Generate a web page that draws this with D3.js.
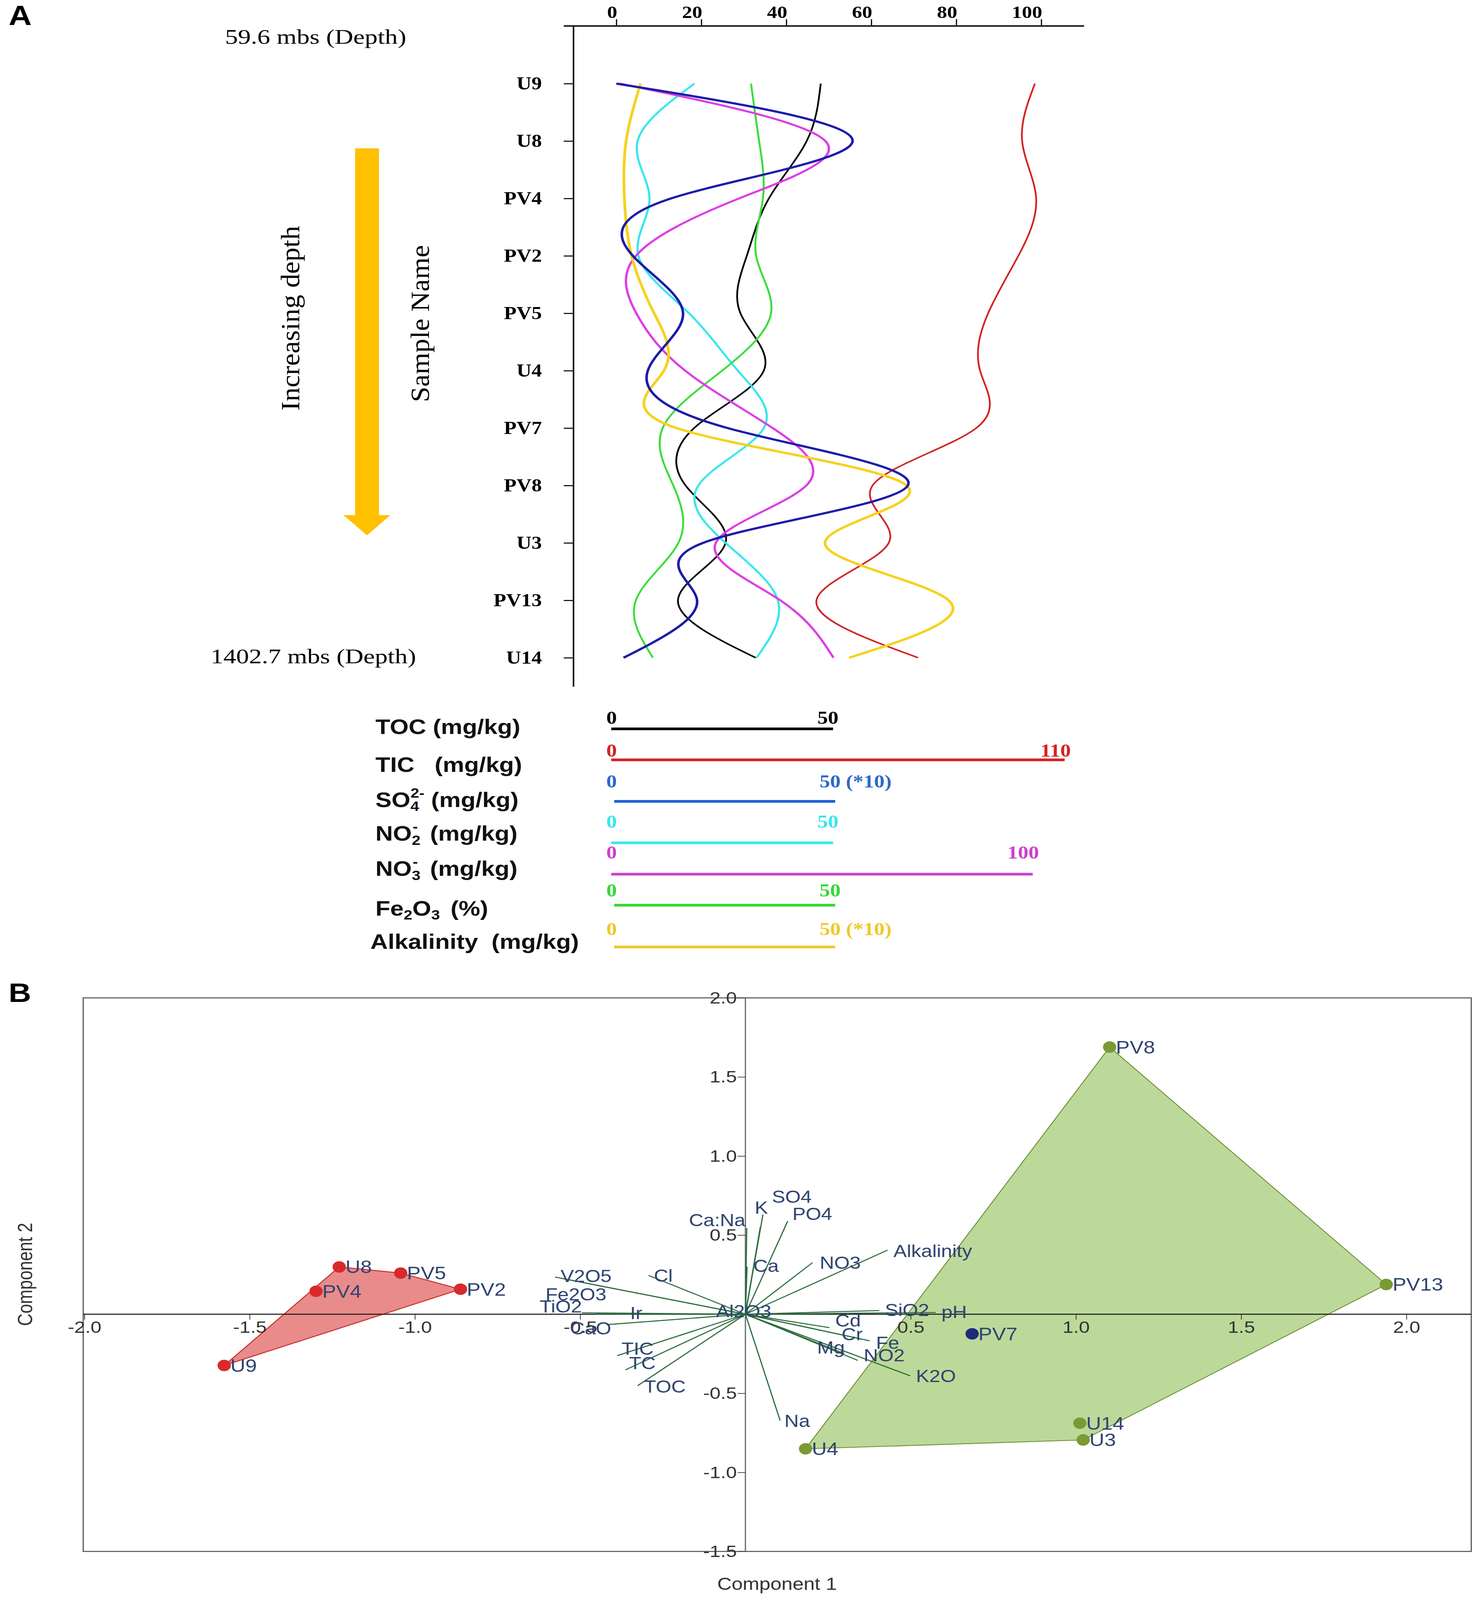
<!DOCTYPE html>
<html>
<head>
<meta charset="utf-8">
<script src="https://cdn.jsdelivr.net/npm/d3@7"></script>
<style>
  html, body { margin: 0; padding: 0; background: #fff; overflow: hidden; }
  svg { display: block; width: 100vw; height: 100vh; }
</style>
</head>
<body>
<div id="chart"></div>
<script>
// ---------------- DATA: panel A (depth profiles, values on the shared 0-100 axis) -------------
const samples = ["U9", "U8", "PV4", "PV2", "PV5", "U4", "PV7", "PV8", "U3", "PV13", "U14"];
const axisTicksA = [0, 20, 40, 60, 80, 100];
const tocVals   = [48.1, 44.8, 35.9, 30.7, 29.2, 34.7, 18.3, 16.3, 25.7, 14.5, 32.8];
const ticVals   = [98.5, 95.5, 98.8, 94.6, 87.5, 85.6, 84.7, 60.3, 64.1, 47.1, 71.0];
const so4Vals   = [0.0, 55.6, 12.9, 3.9, 15.7, 7.4, 26.2, 68.6, 20.4, 19.0, 1.7];
const no2Vals   = [18.4, 5.0, 7.8, 5.2, 17.1, 28.6, 34.7, 19.3, 25.7, 38.0, 33.0];
const no3Vals   = [0.8, 49.2, 28.9, 4.6, 4.7, 16.2, 36.8, 44.7, 23.4, 38.6, 51.1];
const fe2o3Vals = [31.7, 33.6, 34.5, 32.9, 36.4, 24.9, 10.9, 13.4, 14.6, 4.6, 8.6];
const alkVals   = [5.7, 2.3, 1.9, 3.6, 8.9, 11.2, 14.2, 68.3, 49.1, 78.2, 54.8];

// legend (scale bars)
const legendNames = ["TOC", "TIC", "SO4", "NO2", "NO3", "Fe2O3", "Alkalinity"];
const legendMinLabels = ["0", "0", "0", "0", "0", "0", "0"];
const legendMaxLabels = ["50", "110", "50 (*10)", "50", "100", "50", "50 (*10)"];
const legendSpan = [51, 105.5, 51.5, 51, 98, 51.5, 51.5];   // bar length in axis units

// ---------------- DATA: panel B (PCA biplot) ----------------
const groupANames = ["U9", "PV4", "U8", "PV5", "PV2"];
const groupAX = [-1.577, -1.299, -1.229, -1.043, -0.862];
const groupAY = [-0.324, 0.145, 0.299, 0.260, 0.158];
const groupBNames = ["PV8", "PV13", "U14", "U3", "U4"];
const groupBX = [1.102, 1.939, 1.012, 1.022, 0.182];
const groupBY = [1.689, 0.188, -0.689, -0.795, -0.851];
const otherNames = ["PV7"];
const otherX = [0.686];
const otherY = [-0.124];

const varNames = ["SO4", "K", "PO4", "Ca:Na", "Ca", "NO3", "Alkalinity", "SiO2", "pH", "Cd", "Cr", "Fe",
                  "Mg", "NO2", "K2O", "Na", "TOC", "TC", "TIC", "CaO", "Ir", "TiO2", "Fe2O3", "V2O5", "Cl", "Al2O3"];
const loadX = [0.045, 0.053, 0.128, 0.004, 0.005, 0.203, 0.430, 0.405, 0.576, 0.254, 0.353, 0.376,
               0.299, 0.340, 0.499, 0.105, -0.326, -0.363, -0.388, -0.420, -0.449, -0.495, -0.560, -0.576, -0.293, -0.020];
const loadY = [0.550, 0.630, 0.589, 0.545, 0.300, 0.326, 0.405, 0.023, 0.011, -0.085, -0.158, -0.168,
               -0.249, -0.292, -0.390, -0.672, -0.452, -0.352, -0.262, -0.066, 0.002, 0.009, 0.228, 0.235, 0.245, 0.010];
const labelX = [0.080, 0.028, 0.142, 0.000, 0.024, 0.225, 0.448, 0.422, 0.593, 0.272, 0.291, 0.395,
                0.217, 0.358, 0.516, 0.118, -0.307, -0.352, -0.375, -0.530, -0.349, -0.623, -0.605, -0.559, -0.277, -0.089];
const labelY = [0.706, 0.635, 0.597, 0.556, 0.267, 0.288, 0.362, -0.011, -0.023, -0.079, -0.164, -0.220,
                -0.249, -0.299, -0.429, -0.714, -0.495, -0.348, -0.256, -0.128, -0.030, 0.011, 0.087, 0.203, 0.205, -0.019];
const labelEnd = ["Ca:Na"];
const xTicksB = [-2.0, -1.5, -1.0, -0.5, 0.5, 1.0, 1.5, 2.0];
const yTicksB = [2.0, 1.5, 1.0, 0.5, -0.5, -1.0, -1.5];

// ---------------- DRAWING ----------------
// The drawing is laid out on the reference's 3796 x 4746 canvas and fitted to the window.
const W = 3796, H = 4746;
const svg = d3.select("#chart").append("svg")
  .attr("viewBox", `0 0 ${W} ${H}`)
  .attr("preserveAspectRatio", "none");

const serif = "'Liberation Serif', 'Times New Roman', serif";
const sans = "'Liberation Sans', Arial, sans-serif";
const fmt1 = d => d.toFixed(1);

// ===== PANEL A =====
const gA = svg.append("g");
gA.append("text").attr("x", 22).attr("y", 74).attr("font-family", sans).attr("font-weight", "bold")
  .attr("font-size", 82).text("A");

const xA = d3.scaleLinear().domain([0, 100]).range([1577.6, 2665.3]);
const yA = d3.scalePoint().domain(samples).range([248, 1951]);
const axisX0 = 1468, axisTop = 77, axisBottom = 2037;

// top axis
const topAxis = d3.axisTop(xA).tickValues(axisTicksA).tickSize(20).tickPadding(4).tickFormat(d3.format("d"));
const gTop = gA.append("g").attr("transform", `translate(0,${axisTop})`).call(topAxis);
gTop.select(".domain").remove();
gTop.selectAll(".tick line").attr("stroke", "#000").attr("stroke-width", 3);
gTop.selectAll(".tick text").attr("font-family", serif).attr("font-weight", "bold")
  .attr("font-size", 52).attr("fill", "#000").attr("text-anchor", "end").attr("dx", 2);
gA.append("line").attr("x1", 1443).attr("x2", 2775).attr("y1", axisTop).attr("y2", axisTop)
  .attr("stroke", "#000").attr("stroke-width", 4);

// left axis
const leftAxis = d3.axisLeft(yA).tickSize(25).tickPadding(56);
const gLeft = gA.append("g").attr("transform", `translate(${axisX0},0)`).call(leftAxis);
gLeft.select(".domain").remove();
gLeft.selectAll(".tick line").attr("stroke", "#000").attr("stroke-width", 3);
gLeft.selectAll(".tick text").attr("font-family", serif).attr("font-weight", "bold")
  .attr("font-size", 53).attr("fill", "#000");
gA.append("line").attr("x1", axisX0).attr("x2", axisX0).attr("y1", axisTop).attr("y2", axisBottom)
  .attr("stroke", "#000").attr("stroke-width", 4);

// curves
const seriesA = [
  { vals: tocVals,   color: "#000000", w: 4.5 },
  { vals: ticVals,   color: "#d22424", w: 4.5 },
  { vals: no2Vals,   color: "#38e6ee", w: 5.5 },
  { vals: fe2o3Vals, color: "#3cdc3c", w: 5 },
  { vals: no3Vals,   color: "#de3ee6", w: 6 },
  { vals: alkVals,   color: "#f6d21e", w: 7 },
  { vals: so4Vals,   color: "#1c1caa", w: 6.5 }
];
const lineA = d3.line().x(d => xA(d.v)).y(d => yA(d.s)).curve(d3.curveNatural);
seriesA.forEach(s => {
  gA.append("path").datum(samples.map((sm, i) => ({ s: sm, v: s.vals[i] })))
    .attr("d", lineA).attr("fill", "none").attr("stroke", s.color)
    .attr("stroke-width", s.w).attr("stroke-linejoin", "round");
});

// depth annotations
gA.append("text").attr("x", 808).attr("y", 130).attr("text-anchor", "middle")
  .attr("font-family", serif).attr("font-size", 60).attr("textLength", 464)
  .attr("lengthAdjust", "spacingAndGlyphs").text("59.6 mbs (Depth)");
gA.append("text").attr("x", 802).attr("y", 1968).attr("text-anchor", "middle")
  .attr("font-family", serif).attr("font-size", 60).attr("textLength", 526)
  .attr("lengthAdjust", "spacingAndGlyphs").text("1402.7 mbs (Depth)");

// arrow
gA.append("path")
  .attr("d", "M909,440 L970,440 L970,1528 L999,1528 L939.5,1588 L879,1528 L909,1528 Z")
  .attr("fill", "#ffc000");
gA.append("text").attr("transform", "translate(766,944) rotate(-90)").attr("text-anchor", "middle")
  .attr("font-family", serif).attr("font-size", 68).attr("textLength", 548)
  .attr("lengthAdjust", "spacingAndGlyphs").text("Increasing depth");
gA.append("text").attr("transform", "translate(1098,960) rotate(-90)").attr("text-anchor", "middle")
  .attr("font-family", serif).attr("font-size", 68).attr("textLength", 466)
  .attr("lengthAdjust", "spacingAndGlyphs").text("Sample Name");

// legend
const legendColors = ["#000000", "#d22424", "#1f62d2", "#38e6ee", "#cc40cc", "#34d834", "#f0c828"];
const legendTextColors = ["#000000", "#d22424", "#2a6ac8", "#38e6ee", "#cc40cc", "#34d834", "#f0c828"];
const legendLabelBase = [2177, 2290, 2394, 2494, 2598, 2716, 2815];
const legendLineY = [2162, 2254, 2377, 2500, 2593, 2685, 2809];
const legendValBase = [2147, 2244, 2336, 2455, 2547, 2659, 2774];
const legendStart = [-1.2, -1.2, -0.5, -1.2, -1.2, -0.5, -0.5];
const legendMaxAnchorEnd = ["TIC", "NO3"];

const gL = gA.append("g");
legendNames.forEach((nm, i) => {
  const t = gL.append("text").attr("x", i === 6 ? 948 : 961).attr("y", legendLabelBase[i])
    .attr("font-family", sans).attr("font-weight", "bold").attr("font-size", 62).attr("fill", "#111");
  if (nm === "TOC") t.text("TOC (mg/kg)");
  else if (nm === "TIC") t.attr("xml:space", "preserve").text("TIC   (mg/kg)");
  else if (nm === "SO4") {
    t.append("tspan").text("SO");
    t.append("tspan").attr("font-size", 40).attr("dy", 12).text("4");
    t.append("tspan").attr("font-size", 40).attr("dx", -22).attr("dy", -40).text("2-");
    t.append("tspan").attr("dy", 28).text(" (mg/kg)");
  } else if (nm === "NO2" || nm === "NO3") {
    t.append("tspan").text("NO");
    t.append("tspan").attr("font-size", 40).attr("dy", 12).text(nm === "NO2" ? "2" : "3");
    t.append("tspan").attr("font-size", 40).attr("dx", -20).attr("dy", -40).text("-");
    t.append("tspan").attr("dy", 28).attr("dx", 14).text(" (mg/kg)");
  } else if (nm === "Fe2O3") {
    t.append("tspan").text("Fe");
    t.append("tspan").attr("font-size", 40).attr("dy", 12).text("2");
    t.append("tspan").attr("dy", -12).text("O");
    t.append("tspan").attr("font-size", 40).attr("dy", 12).text("3");
    t.append("tspan").attr("dy", -12).attr("dx", 10).text(" (%)");
  } else t.text("Alkalinity  (mg/kg)").attr("xml:space", "preserve");

  const x0 = xA(legendStart[i]), x1 = xA(legendSpan[i]);
  gL.append("line").attr("x1", x0).attr("x2", x1).attr("y1", legendLineY[i]).attr("y2", legendLineY[i])
    .attr("stroke", legendColors[i]).attr("stroke-width", 8);
  gL.append("text").attr("x", xA(-1.1)).attr("y", legendValBase[i]).attr("text-anchor", "middle")
    .attr("font-family", serif).attr("font-weight", "bold").attr("font-size", 54)
    .attr("fill", legendTextColors[i]).text(legendMinLabels[i]);
  const endAnchor = legendMaxAnchorEnd.includes(nm);
  gL.append("text").attr("x", endAnchor ? x1 + 16 : x1 - 40).attr("y", legendValBase[i])
    .attr("text-anchor", endAnchor ? "end" : "start")
    .attr("font-family", serif).attr("font-weight", "bold").attr("font-size", 54)
    .attr("fill", legendTextColors[i]).text(legendMaxLabels[i]);
});

// ===== PANEL B =====
const gB = svg.append("g");
gB.append("text").attr("x", 22).attr("y", 2972).attr("font-family", sans).attr("font-weight", "bold")
  .attr("font-size", 80).text("B");

const xB = d3.scaleLinear().domain([-2, 2]).range([216, 3600]);
const yB = d3.scaleLinear().domain([-1.5, 2]).range([4602, 2960]);
const boxL = 213, boxR = 3766, boxT = 2960, boxB = 4602;

gB.append("rect").attr("x", boxL).attr("y", boxT).attr("width", boxR - boxL).attr("height", boxB - boxT)
  .attr("fill", "none").attr("stroke", "#555").attr("stroke-width", 3);

// polygons (convex hulls)
const hullA = d3.polygonHull(groupAX.map((x, i) => [xB(x), yB(groupAY[i])]));
const hullB = d3.polygonHull(groupBX.map((x, i) => [xB(x), yB(groupBY[i])]));
gB.append("path").attr("d", "M" + hullB.join("L") + "Z").attr("fill", "#bcd99a")
  .attr("stroke", "#6e8f34").attr("stroke-width", 2.5);
gB.append("path").attr("d", "M" + hullA.join("L") + "Z").attr("fill", "#e98b8b")
  .attr("stroke", "#cc3333").attr("stroke-width", 3);

// zero axes
gB.append("line").attr("x1", boxL).attr("x2", boxR).attr("y1", yB(0)).attr("y2", yB(0))
  .attr("stroke", "#222").attr("stroke-width", 3);
gB.append("line").attr("x1", xB(0)).attr("x2", xB(0)).attr("y1", boxT).attr("y2", boxB)
  .attr("stroke", "#666").attr("stroke-width", 3);

const axB = d3.axisBottom(xB).tickValues(xTicksB).tickSize(16).tickPadding(4).tickFormat(fmt1);
const gAxB = gB.append("g").attr("transform", `translate(0,${yB(0)})`).call(axB);
gAxB.select(".domain").remove();
gAxB.selectAll(".tick line").attr("stroke", "#333").attr("stroke-width", 2);
gAxB.selectAll(".tick text").attr("font-family", sans).attr("font-size", 50).attr("fill", "#333");

const ayB = d3.axisLeft(yB).tickValues(yTicksB).tickSize(20).tickPadding(2).tickFormat(fmt1);
const gAyB = gB.append("g").attr("transform", `translate(${xB(0)},0)`).call(ayB);
gAyB.select(".domain").remove();
gAyB.selectAll(".tick line").attr("stroke", "#333").attr("stroke-width", 2);
gAyB.selectAll(".tick text").attr("font-family", sans).attr("font-size", 50).attr("fill", "#333");

// loading vectors
const labelColor = "#2f4470";
varNames.forEach((nm, i) => {
  gB.append("line").attr("x1", xB(0)).attr("y1", yB(0)).attr("x2", xB(loadX[i])).attr("y2", yB(loadY[i]))
    .attr("stroke", "#2a6b3c").attr("stroke-width", 3);
});
varNames.forEach((nm, i) => {
  gB.append("text").attr("x", xB(labelX[i])).attr("y", yB(labelY[i]))
    .attr("text-anchor", labelEnd.includes(nm) ? "end" : "start")
    .attr("font-family", sans).attr("font-size", 51).attr("fill", labelColor).text(nm);
});

// sample points
function drawPts(names, xs, ys, color) {
  names.forEach((nm, i) => {
    gB.append("circle").attr("cx", xB(xs[i])).attr("cy", yB(ys[i])).attr("r", 17).attr("fill", color);
    gB.append("text").attr("x", xB(xs[i]) + 16).attr("y", yB(ys[i])).attr("dominant-baseline", "central")
      .attr("font-family", sans).attr("font-size", 53).attr("fill", labelColor).text(nm);
  });
}
drawPts(groupANames, groupAX, groupAY, "#d82a2a");
drawPts(groupBNames, groupBX, groupBY, "#7a9a34");
drawPts(otherNames, otherX, otherY, "#1d2a7a");

// axis titles
gB.append("text").attr("x", 1989).attr("y", 4716).attr("text-anchor", "middle")
  .attr("font-family", sans).attr("font-size", 51).attr("fill", "#333").text("Component 1");
gB.append("text").attr("transform", "translate(82,3780) rotate(-90)").attr("text-anchor", "middle")
  .attr("font-family", sans).attr("font-size", 51).attr("fill", "#333").text("Component 2");
</script>
</body>
</html>
